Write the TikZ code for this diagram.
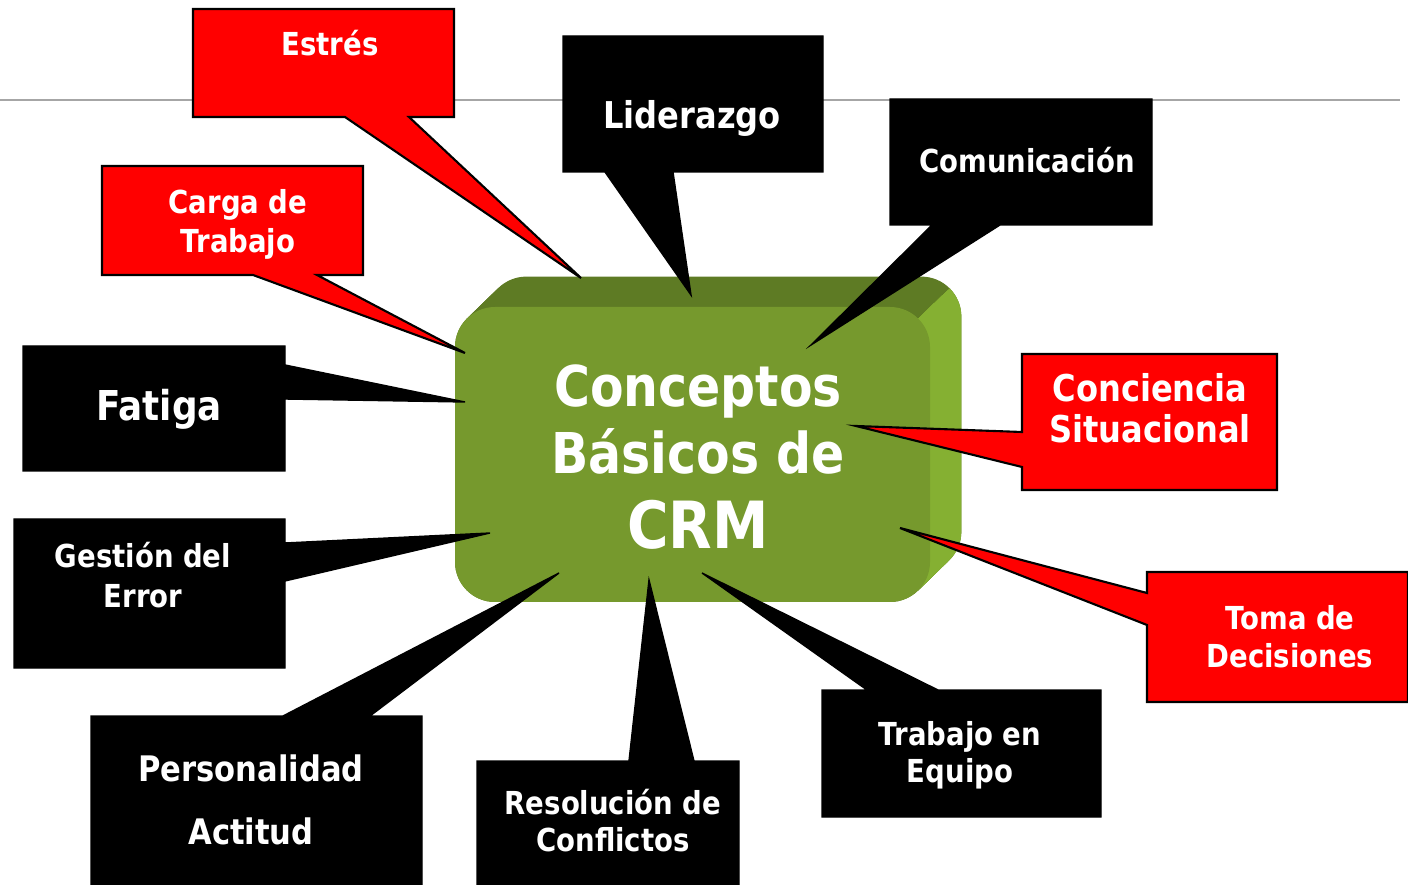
\documentclass[tikz,border=0pt]{standalone}
\usepackage{fontspec}
\setmainfont{DejaVu Sans}[FakeStretch=0.87]

\definecolor{crmfront}{RGB}{118,153,45}
\definecolor{crmtop}{RGB}{94,123,36}
\definecolor{crmside}{RGB}{133,176,50}
\definecolor{callred}{RGB}{255,0,0}

\tikzset{
  redcall/.style={fill=callred,draw=black,line width=0.6pt,line join=miter},
  blackcall/.style={fill=black,draw=black,line width=0.4pt},
  calltext/.style={text=white,align=center,inner sep=0pt,font=\bfseries\fontsize{9}{11}\selectfont},
}

\begin{document}
\begin{tikzpicture}[x=0.01cm,y=-0.01cm]
\useasboundingbox (0,0) rectangle (1408,885);
\draw[gray!70,line width=0.6pt] (0,100) -- (1400,100);

% green block
\foreach \t in {0,0.05,...,1}
  \fill[crmtop,rounded corners=0.4cm,shift={(33*\t,-32*\t)}] (455,307) rectangle (930,602);
\begin{scope}
\clip (918,319) -- (951,287) -- (1000,287) -- (1000,620) -- (918,620) -- cycle;
\foreach \t in {0,0.05,...,1}
  \fill[crmside,rounded corners=0.4cm,shift={(33*\t,-32*\t)}] (455,307) rectangle (930,602);
\end{scope}
\fill[crmfront,rounded corners=0.4cm] (455,307) rectangle (930,602);
\node[text=white,align=center,inner sep=0pt,font=\bfseries\fontsize{16}{19}\selectfont] (crm) at (698,457)
  {Conceptos\\Básicos de\\[2.3pt]{\fontsize{18.5}{22}\selectfont CRM}};

% red callouts
\draw[redcall] (193,9) -- (454,9) -- (454,117) -- (409,117) -- (581,278) -- (345,117) -- (193,117) -- cycle;
\node[calltext] (estres) at (330,43) {Estrés};
\draw[redcall] (102,166) -- (363,166) -- (363,275) -- (317,275) -- (465,353) -- (253,275) -- (102,275) -- cycle;
\node[calltext,font=\bfseries\fontsize{9}{11.1}\selectfont] (carga) at (238,224) {Carga de\\Trabajo};
\draw[redcall] (1022,354) -- (1277,354) -- (1277,490) -- (1022,490) -- (1022,467) -- (856,426) -- (1022,432) -- cycle;
\node[calltext,font=\bfseries\fontsize{10.5}{11.7}\selectfont] (conciencia) at (1150,408) {Conciencia\\Situacional};
\draw[redcall] (1147,572) -- (1408,572) -- (1408,702) -- (1147,702) -- (1147,625) -- (900,528) -- (1147,593) -- cycle;
\node[calltext,font=\bfseries\fontsize{9}{10.8}\selectfont] (toma) at (1290,637) {Toma de\\Decisiones};

% black callouts
\draw[blackcall] (563,36) -- (823,36) -- (823,172) -- (673,172) -- (691,295) -- (605,172) -- (563,172) -- cycle;
\node[calltext,font=\bfseries\fontsize{10.5}{12}\selectfont] (liderazgo) at (692,118) {Liderazgo};
\draw[blackcall] (890,99) -- (1152,99) -- (1152,225) -- (1000,225) -- (811,345) -- (932,225) -- (890,225) -- cycle;
\node[calltext] (comunicacion) at (1027,160) {Comunicación};
\draw[blackcall] (23,346) -- (285,346) -- (285,365) -- (465,402) -- (285,399) -- (285,471) -- (23,471) -- cycle;
\node[calltext,font=\bfseries\fontsize{11.7}{14}\selectfont] (fatiga) at (159,409) {Fatiga};
\draw[blackcall] (14,519) -- (285,519) -- (285,543) -- (490,533) -- (285,581) -- (285,668) -- (14,668) -- cycle;
\node[calltext,font=\bfseries\fontsize{9}{11.4}\selectfont] (gestion) at (143,575) {Gestión del\\Error};
\draw[blackcall] (91,716) -- (283,716) -- (559,573) -- (370,716) -- (422,716) -- (422,890) -- (91,890) -- cycle;
\node[calltext,font=\bfseries\fontsize{10}{17.9}\selectfont] (personalidad) at (251,800) {Personalidad\\Actitud};
\draw[blackcall] (477,761) -- (629,761) -- (649,580) -- (694,761) -- (739,761) -- (739,890) -- (477,890) -- cycle;
\node[calltext,font=\bfseries\fontsize{9}{10.5}\selectfont] (resolucion) at (613,821) {Resolución de\\Conflictos};
\draw[blackcall] (822,690) -- (867,690) -- (702,573) -- (938,690) -- (1101,690) -- (1101,817) -- (822,817) -- cycle;
\node[calltext,font=\bfseries\fontsize{9}{10.5}\selectfont] (trabajo) at (960,755) {Trabajo en\\Equipo};

\end{tikzpicture}
\end{document}
